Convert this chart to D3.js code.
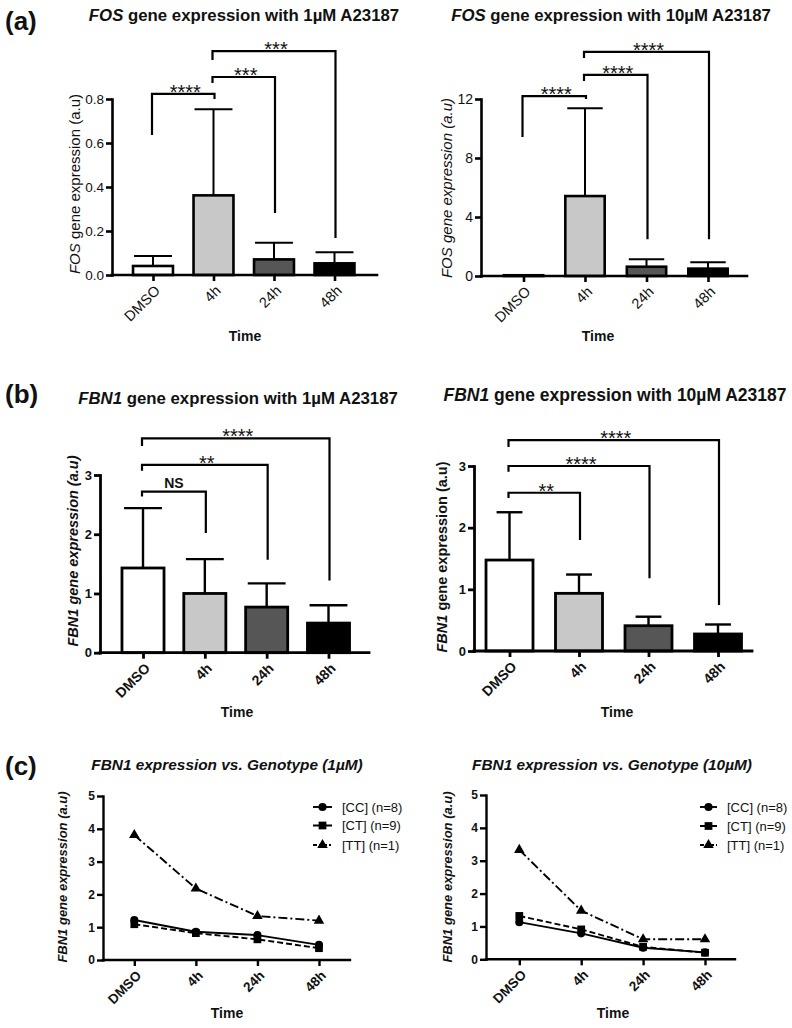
<!DOCTYPE html>
<html><head><meta charset="utf-8">
<script src="https://cdn.jsdelivr.net/npm/d3@7"></script>
<style>
body{margin:0;background:#fff}
svg{display:block}
text{font-family:"Liberation Sans",Arial,sans-serif;fill:#111}
</style>
</head><body>
<svg id="c" width="792" height="1028"></svg>
<script>
// ---------------- DATA ----------------
const categories = ["DMSO", "4h", "24h", "48h"];
const barFills = ["#ffffff", "#c8c8c8", "#565656", "#000000"];

const fos1Mean = [0.041, 0.362, 0.071, 0.053];
const fos1Sd   = [0.045, 0.391, 0.076, 0.050];
const fos1Pairs = [[0, 1], [1, 2], [1, 3]];
const fos1Sig  = ["****", "***", "***"];
const fos1Ticks = [0, 0.2, 0.4, 0.6, 0.8];

const fos10Mean = [0.05, 5.42, 0.63, 0.50];
const fos10Sd   = [0.00, 5.95, 0.50, 0.43];
const fos10Pairs = [[0, 1], [1, 2], [1, 3]];
const fos10Sig  = ["****", "****", "****"];
const fos10Ticks = [0, 4, 8, 12];

const fbn1Mean = [1.43, 1.00, 0.77, 0.50];
const fbn1Sd   = [1.01, 0.58, 0.40, 0.30];
const fbn1Pairs = [[0, 1], [0, 2], [0, 3]];
const fbn1Sig  = ["NS", "**", "****"];
const fbn1Ticks = [0, 1, 2, 3];

const fbn10Mean = [1.475, 0.935, 0.41, 0.276];
const fbn10Sd   = [0.775, 0.305, 0.146, 0.154];
const fbn10Pairs = [[0, 1], [0, 2], [0, 3]];
const fbn10Sig  = ["**", "****", "****"];
const fbn10Ticks = [0, 1, 2, 3];

const genotypes = ["[CC] (n=8)", "[CT] (n=9)", "[TT] (n=1)"];
const geno1CC = [1.22, 0.86, 0.76, 0.46];
const geno1CT = [1.09, 0.82, 0.63, 0.36];
const geno1TT = [3.81, 2.18, 1.34, 1.20];
const geno10CC = [1.13, 0.79, 0.35, 0.21];
const geno10CT = [1.32, 0.91, 0.38, 0.20];
const geno10TT = [3.33, 1.48, 0.61, 0.61];
const genoTicks = [0, 1, 2, 3, 4, 5];

// ---------------- DRAWING ----------------
const svg = d3.select("#c");

function richText(parent, x, y, parts, size, weight, rotate, anchor) {
  const t = parent.append("text")
    .attr("font-size", size).attr("font-weight", weight)
    .attr("text-anchor", anchor || "middle")
    .attr("transform", `translate(${x},${y})` + (rotate ? ` rotate(${rotate})` : ""));
  parts.forEach(p => t.append("tspan").attr("font-style", p[1] ? "italic" : "normal").text(p[0]));
  return t;
}

function styleAxis(g, sw, fs, fw) {
  g.attr("font-family", null).attr("font-size", null);
  g.selectAll("path.domain").attr("stroke", "#000").attr("stroke-width", sw).attr("stroke-linecap", "square");
  g.selectAll(".tick line").attr("stroke", "#000").attr("stroke-width", sw);
  g.selectAll(".tick text").attr("font-size", fs).attr("font-weight", fw).attr("fill", "#111");
}

function xAxis(g, x, c) {
  g.append("line").attr("x1", c.ax).attr("x2", c.xEnd).attr("y1", c.y0).attr("y2", c.y0)
    .attr("stroke", "#000").attr("stroke-width", c.sw).attr("stroke-linecap", "square");
  const xa = d3.axisBottom(x).tickSizeOuter(0).tickSize(6);
  const xg = g.append("g").attr("transform", `translate(0,${c.y0})`).call(xa);
  xg.select("path.domain").remove();
  styleAxis(xg, c.sw, c.xfs, c.xfw);
  xg.selectAll(".tick text")
    .attr("x", 0).attr("y", 0).attr("dy", "0.35em")
    .attr("text-anchor", "end")
    .attr("transform", "translate(4,13) rotate(-45)");
}

function barPanel(c) {
  const g = svg.append("g");
  const y = d3.scaleLinear().domain([0, c.ymax]).range([c.y0, c.y1]);
  const step = (c.c3 - c.c0) / 3;
  const x = d3.scaleBand().domain(categories)
    .range([c.c0 - step / 2, c.c3 + step / 2]).paddingInner(c.pad).paddingOuter(c.pad / 2);
  const bw = x.bandwidth();
  const cx = i => x(categories[i]) + bw / 2;

  // error bars
  const eb = g.append("g").attr("stroke", "#000").attr("stroke-width", c.esw);
  c.mean.forEach((m, i) => {
    const s = c.sd[i];
    if (s <= 0) return;
    eb.append("line").attr("x1", cx(i)).attr("x2", cx(i)).attr("y1", y(m)).attr("y2", y(m + s));
    eb.append("line").attr("x1", cx(i) - bw * c.cap / 2).attr("x2", cx(i) + bw * c.cap / 2)
      .attr("y1", y(m + s)).attr("y2", y(m + s));
  });

  // bars
  g.selectAll("rect.bar").data(c.mean).join("rect").attr("class", "bar")
    .attr("x", (d, i) => x(categories[i])).attr("width", bw)
    .attr("y", d => y(d)).attr("height", d => Math.max(0.5, y(0) - y(d)))
    .attr("fill", (d, i) => barFills[i]).attr("stroke", "#000").attr("stroke-width", c.sw);

  // y axis
  const ya = d3.axisLeft(y).tickValues(c.ticks).tickFormat(c.fmt).tickSize(6).tickSizeOuter(0).tickPadding(2);
  const yg = g.append("g").attr("transform", `translate(${c.ax},0)`).call(ya);
  styleAxis(yg, c.sw, c.yfs, c.yfw);

  // x axis
  const xp = d3.scalePoint().domain(categories).range([cx(0), cx(3)]);
  xAxis(g, xp, c);

  // significance brackets
  const bg = g.append("g");
  c.pairs.forEach((p, k) => {
    const b = c.br[k];
    const x1 = cx(p[0]) - 1, x2 = cx(p[1]) + 1;
    bg.append("path")
      .attr("d", `M${x1},${y(b[1])}V${y(b[0])}H${x2}V${y(b[2])}`)
      .attr("fill", "none").attr("stroke", "#000").attr("stroke-width", 2.2).attr("stroke-linejoin", "miter");
    const lab = c.sig[k];
    const isStar = lab.indexOf("*") >= 0;
    bg.append("text").attr("x", (x1 + x2) / 2 + (isStar ? 2 : 0)).attr("y", y(b[0]) + (isStar ? 5 : -4))
      .attr("text-anchor", "middle").attr("font-size", isStar ? 20 : 14).attr("font-weight", isStar ? "normal" : "bold")
      .text(lab);
  });

  // titles / labels
  richText(g, c.tx, c.ty, c.title, c.tfs, "bold");
  richText(g, c.ylx, c.yly, c.ylab, c.ylfs, c.ylfw, -90);
  richText(g, c.timeX, c.timeY, [["Time", false]], 14, "bold");
}

function linePanel(c) {
  const g = svg.append("g");
  const y = d3.scaleLinear().domain([0, 5]).range([c.y0, c.y1]);
  const x = d3.scalePoint().domain(categories).range([c.p0, c.p3]);
  const series = [
    {name: genotypes[0], vals: c.cc, dash: null, ldash: null, sym: d3.symbolCircle, size: 52},
    {name: genotypes[1], vals: c.ct, dash: "6,3", ldash: "9,3", sym: d3.symbolSquare, size: 60},
    {name: genotypes[2], vals: c.tt, dash: "9,3,2,3", ldash: "4,2,2,2", sym: d3.symbolTriangle, size: 48}
  ];
  const line = d3.line().x((d, i) => x(categories[i])).y(d => y(d));

  const ya = d3.axisLeft(y).tickValues(genoTicks).tickFormat(d3.format("d")).tickSize(6).tickSizeOuter(0).tickPadding(2);
  const yg = g.append("g").attr("transform", `translate(${c.ax},0)`).call(ya);
  styleAxis(yg, c.sw, 12, "bold");
  xAxis(g, x, c);

  series.forEach((s, k) => {
    g.append("path").attr("d", line(s.vals)).attr("fill", "none").attr("stroke", "#000")
      .attr("stroke-width", 1.9).attr("stroke-dasharray", s.dash);
    g.selectAll(null).data(s.vals).join("path")
      .attr("transform", (d, i) => `translate(${x(categories[i])},${y(d)})`)
      .attr("d", d3.symbol().type(s.sym).size(s.size)).attr("fill", "#000");
    const ly = c.legY[k];
    g.append("line").attr("x1", c.lx0).attr("x2", c.lx1).attr("y1", ly).attr("y2", ly)
      .attr("stroke", "#000").attr("stroke-width", 1.9).attr("stroke-dasharray", s.ldash);
    g.append("path").attr("transform", `translate(${(c.lx0 + c.lx1) / 2},${ly})`)
      .attr("d", d3.symbol().type(s.sym).size(s.size)).attr("fill", "#000");
    g.append("text").attr("x", c.ltx).attr("y", ly).attr("dy", "0.36em").attr("font-size", 13).text(s.name);
  });

  richText(g, c.tx, c.ty, c.title, 15.4, "bold");
  richText(g, c.ylx, c.yly, [["FBN1 gene expression (a.u)", true]], 13, "bold", -90);
  richText(g, c.timeX, c.timeY, [["Time", false]], 14, "bold");
}

// panel letters
[["(a)", 30], ["(b)", 403], ["(c)", 775]].forEach(p => {
  svg.append("text").attr("x", 5).attr("y", p[1]).attr("font-size", 26).attr("font-weight", "bold").text(p[0]);
});

// (a) left
barPanel({
  mean: fos1Mean, sd: fos1Sd, ticks: fos1Ticks, fmt: d3.format(".1f"), ymax: 0.8,
  y0: 275, y1: 99, ax: 112, xEnd: 377, c0: 153, c3: 334.5, pad: 0.34, sw: 2.6, esw: 2, cap: 0.95,
  yfs: 13.5, yfw: "normal", xfs: 14.5, xfw: "normal",
  pairs: fos1Pairs, sig: fos1Sig,
  br: [[0.823, 0.636, 0.80], [0.90, 0.873, 0.282], [1.018, 0.977, 0.168]],
  title: [["FOS", true], [" gene expression with 1\u00b5M A23187", false]], tx: 244, ty: 21, tfs: 16.8,
  ylab: [["FOS", true], [" gene expression (a.u)", false]], ylx: 80, yly: 184, ylfs: 15, ylfw: "normal",
  timeX: 245, timeY: 341
});

// (a) right
barPanel({
  mean: fos10Mean, sd: fos10Sd, ticks: fos10Ticks, fmt: d3.format("d"), ymax: 12,
  y0: 276, y1: 99, ax: 481, xEnd: 747, c0: 523.5, c3: 708, pad: 0.36, sw: 2.6, esw: 2, cap: 0.9,
  yfs: 14, yfw: "normal", xfs: 14.5, xfw: "normal",
  pairs: fos10Pairs, sig: fos10Sig,
  br: [[12.2, 9.42, 12.0], [13.63, 13.22, 2.5], [15.19, 14.78, 2.5]],
  title: [["FOS", true], [" gene expression with 10\u00b5M A23187", false]], tx: 611, ty: 21, tfs: 16.8,
  ylab: [["FOS gene expression (a.u)", true]], ylx: 452, yly: 188, ylfs: 15, ylfw: "normal",
  timeX: 598, timeY: 341
});

// (b) left
barPanel({
  mean: fbn1Mean, sd: fbn1Sd, ticks: fbn1Ticks, fmt: d3.format("d"), ymax: 3,
  y0: 652.7, y1: 475, ax: 100, xEnd: 369, c0: 143, c3: 328.5, pad: 0.32, sw: 2.8, esw: 2.4, cap: 0.9,
  yfs: 13, yfw: "bold", xfs: 14, xfw: "bold",
  pairs: fbn1Pairs, sig: fbn1Sig,
  br: [[2.72, 2.635, 2.02], [3.17, 3.07, 1.57], [3.62, 3.49, 1.22]],
  title: [["FBN1", true], [" gene expression with 1\u00b5M A23187", false]], tx: 238, ty: 404, tfs: 16.8,
  ylab: [["FBN1 gene expression (a.u)", true]], ylx: 78, yly: 551, ylfs: 14.5, ylfw: "bold",
  timeX: 237, timeY: 717
});

// (b) right
barPanel({
  mean: fbn10Mean, sd: fbn10Sd, ticks: fbn10Ticks, fmt: d3.format("d"), ymax: 3,
  y0: 651, y1: 466, ax: 474, xEnd: 752, c0: 509.5, c3: 718, pad: 0.324, sw: 2.8, esw: 2.4, cap: 0.55,
  yfs: 13, yfw: "bold", xfs: 14, xfw: "bold",
  pairs: fbn10Pairs, sig: fbn10Sig,
  br: [[2.566, 2.48, 1.8], [3.0, 2.906, 1.18], [3.42, 3.31, 0.745]],
  title: [["FBN1", true], [" gene expression with 10\u00b5M A23187", false]], tx: 615, ty: 401, tfs: 17.5,
  ylab: [["FBN1", true], [" gene expression (a.u)", false]], ylx: 447, yly: 557, ylfs: 14.5, ylfw: "bold",
  timeX: 617, timeY: 717
});

// (c) left
linePanel({
  cc: geno1CC, ct: geno1CT, tt: geno1TT,
  y0: 960, y1: 796, ax: 103, xEnd: 350, p0: 134.3, p3: 319, sw: 2.4, xfs: 13.5, xfw: "bold",
  lx0: 313, lx1: 332, ltx: 342, legY: [807, 825.5, 845],
  title: [["FBN1 expression vs. Genotype (1\u00b5M)", true]], tx: 227, ty: 770,
  ylx: 67, yly: 877, timeX: 227, timeY: 1018
});

// (c) right
linePanel({
  cc: geno10CC, ct: geno10CT, tt: geno10TT,
  y0: 959.3, y1: 795, ax: 486, xEnd: 735, p0: 519.3, p3: 705, sw: 2.4, xfs: 13.5, xfw: "bold",
  lx0: 700, lx1: 717, ltx: 727, legY: [807, 826, 845],
  title: [["FBN1 expression vs. Genotype (10\u00b5M)", true]], tx: 612, ty: 770,
  ylx: 452, yly: 877, timeX: 613, timeY: 1018
});
</script>
</body></html>
